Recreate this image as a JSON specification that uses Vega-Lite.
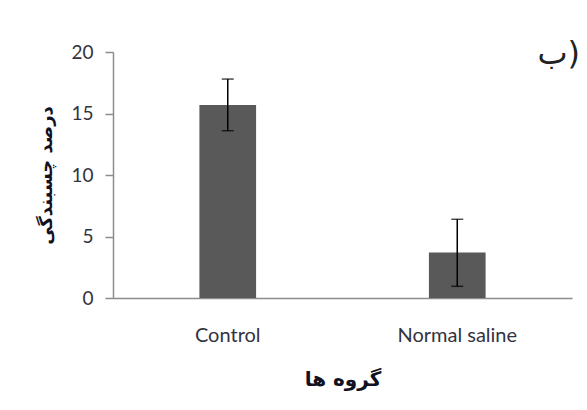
{
  "$schema": "https://vega.github.io/schema/vega-lite/v6.json",
  "width": 459,
  "height": 246,
  "autosize": {"type": "none"},
  "padding": {"left": 113, "top": 52, "right": 15, "bottom": 112},
  "background": "white",
  "title": {
    "text": "ب)",
    "orient": "top",
    "anchor": "end",
    "offset": -28,
    "dx": 8,
    "font": "DejaVu Sans",
    "fontSize": 32,
    "fontWeight": "normal",
    "color": "#222222"
  },
  "data": {
    "values": [
      {"group": "Control", "mean": 15.7, "lo": 13.6, "hi": 17.8},
      {"group": "Normal saline", "mean": 3.7, "lo": 0.95, "hi": 6.4}
    ]
  },
  "encoding": {
    "x": {
      "field": "group",
      "type": "nominal",
      "sort": null,
      "scale": {"paddingInner": 0.753, "paddingOuter": 0.3765},
      "axis": {
        "title": "گروه ها",
        "labelAngle": 0,
        "ticks": false,
        "domainColor": "#8c8c8c",
        "domainWidth": 1.5,
        "labelFont": "Lato",
        "labelFontSize": 20,
        "labelColor": "#333340",
        "labelPadding": 27,
        "titleFont": "DejaVu Sans",
        "titleFontSize": 20,
        "titleFontWeight": "bold",
        "titleColor": "#111122",
        "titlePadding": 24
      }
    }
  },
  "layer": [
    {
      "mark": {"type": "bar", "color": "#595959"},
      "encoding": {
        "y": {
          "field": "mean",
          "type": "quantitative",
          "scale": {"domain": [0, 20]},
          "axis": {
            "title": "درصد چسبندگی",
            "values": [0, 5, 10, 15, 20],
            "grid": false,
            "domainColor": "#8c8c8c",
            "domainWidth": 1.5,
            "tickColor": "#8c8c8c",
            "tickSize": 8,
            "tickWidth": 1.5,
            "labelFont": "Lato",
            "labelFontSize": 19,
            "labelColor": "#333340",
            "labelPadding": 12,
            "titleFont": "DejaVu Sans",
            "titleFontSize": 18,
            "titleFontWeight": "bold",
            "titleColor": "#111122",
            "titlePadding": 15
          }
        }
      }
    },
    {
      "mark": {"type": "rule", "color": "black", "strokeWidth": 1.5},
      "encoding": {
        "y": {"field": "lo", "type": "quantitative"},
        "y2": {"field": "hi"}
      }
    },
    {
      "mark": {"type": "tick", "color": "black", "size": 12, "thickness": 1.5},
      "encoding": {"y": {"field": "hi", "type": "quantitative"}}
    },
    {
      "mark": {"type": "tick", "color": "black", "size": 12, "thickness": 1.5},
      "encoding": {"y": {"field": "lo", "type": "quantitative"}}
    }
  ],
  "config": {"view": {"stroke": null}}
}
